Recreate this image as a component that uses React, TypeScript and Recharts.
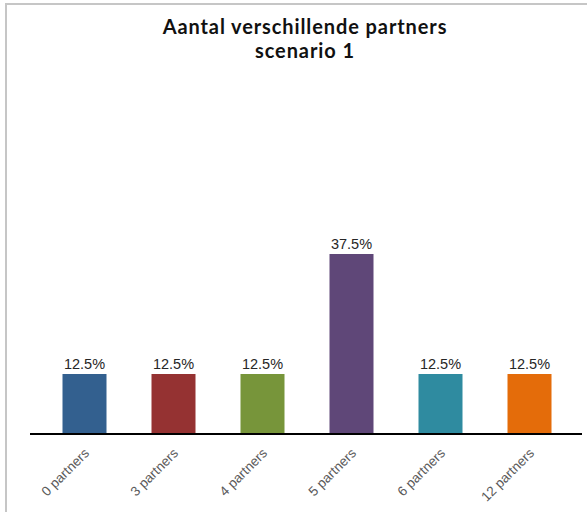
import { BarChart, Bar, XAxis, YAxis, Cell, LabelList } from "recharts";

const categories = ["0 partners", "3 partners", "4 partners", "5 partners", "6 partners", "12 partners"];
const shares = [12.5, 12.5, 12.5, 37.5, 12.5, 12.5];
const barColors = ["#33608f", "#953232", "#77953a", "#5f4778", "#2f8ba0", "#e46c0a"];

const data = categories.map((name, i) => ({ name, value: shares[i] }));

function AngledTick({ x, y, payload }: any) {
  return (
    <text
      x={x + 6}
      y={y + 12}
      textAnchor="end"
      transform={`rotate(-45, ${x + 6}, ${y + 12})`}
      fill="#595959"
      fontSize={13.5}
      fontFamily="'Liberation Sans', Arial, sans-serif"
    >
      {payload.value}
    </text>
  );
}

export default function App() {
  return (
    <div
      style={{
        position: "fixed",
        left: 0,
        top: 0,
        width: 587,
        height: 512,
        background: "#fff",
      }}
    >
      <div
        style={{
          position: "absolute",
          left: 5,
          top: 3,
          width: 582,
          height: 509,
          borderLeft: "2px solid #c6c6c6",
          borderTop: "2px solid #c6c6c6",
          boxSizing: "border-box",
        }}
      />
      <div
        style={{
          position: "absolute",
          left: 105,
          width: 400,
          top: 15,
          textAlign: "center",
          fontFamily: "Lato, sans-serif",
          fontWeight: 700,
          fontSize: 20,
          lineHeight: "23.5px",
          letterSpacing: 0.9,
          color: "#111",
        }}
      >
        Aantal verschillende partners
        <br />
        scenario 1
      </div>
      <BarChart
        width={587}
        height={512}
        data={data}
        margin={{ top: 242, right: 5, left: 30, bottom: 0 }}
        style={{ position: "absolute", left: 0, top: 0 }}
      >
        <YAxis hide domain={[0, 40]} />
        <XAxis
          dataKey="name"
          interval={0}
          padding={{ left: 9.5, right: 8.5 }}
          axisLine={{ stroke: "#000", strokeWidth: 2 }}
          tickLine={false}
          tick={<AngledTick />}
          height={78}
        />
        <Bar dataKey="value" barSize={44} isAnimationActive={false}>
          {data.map((d, i) => (
            <Cell key={d.name} fill={barColors[i]} />
          ))}
          <LabelList
            dataKey="value"
            position="top"
            offset={5}
            formatter={(v: any) => `${Number(v).toFixed(1)}%`}
            fill="#262626"
            fontSize={14.5}
            fontFamily="'Liberation Sans', Arial, sans-serif"
          />
        </Bar>
      </BarChart>
    </div>
  );
}
